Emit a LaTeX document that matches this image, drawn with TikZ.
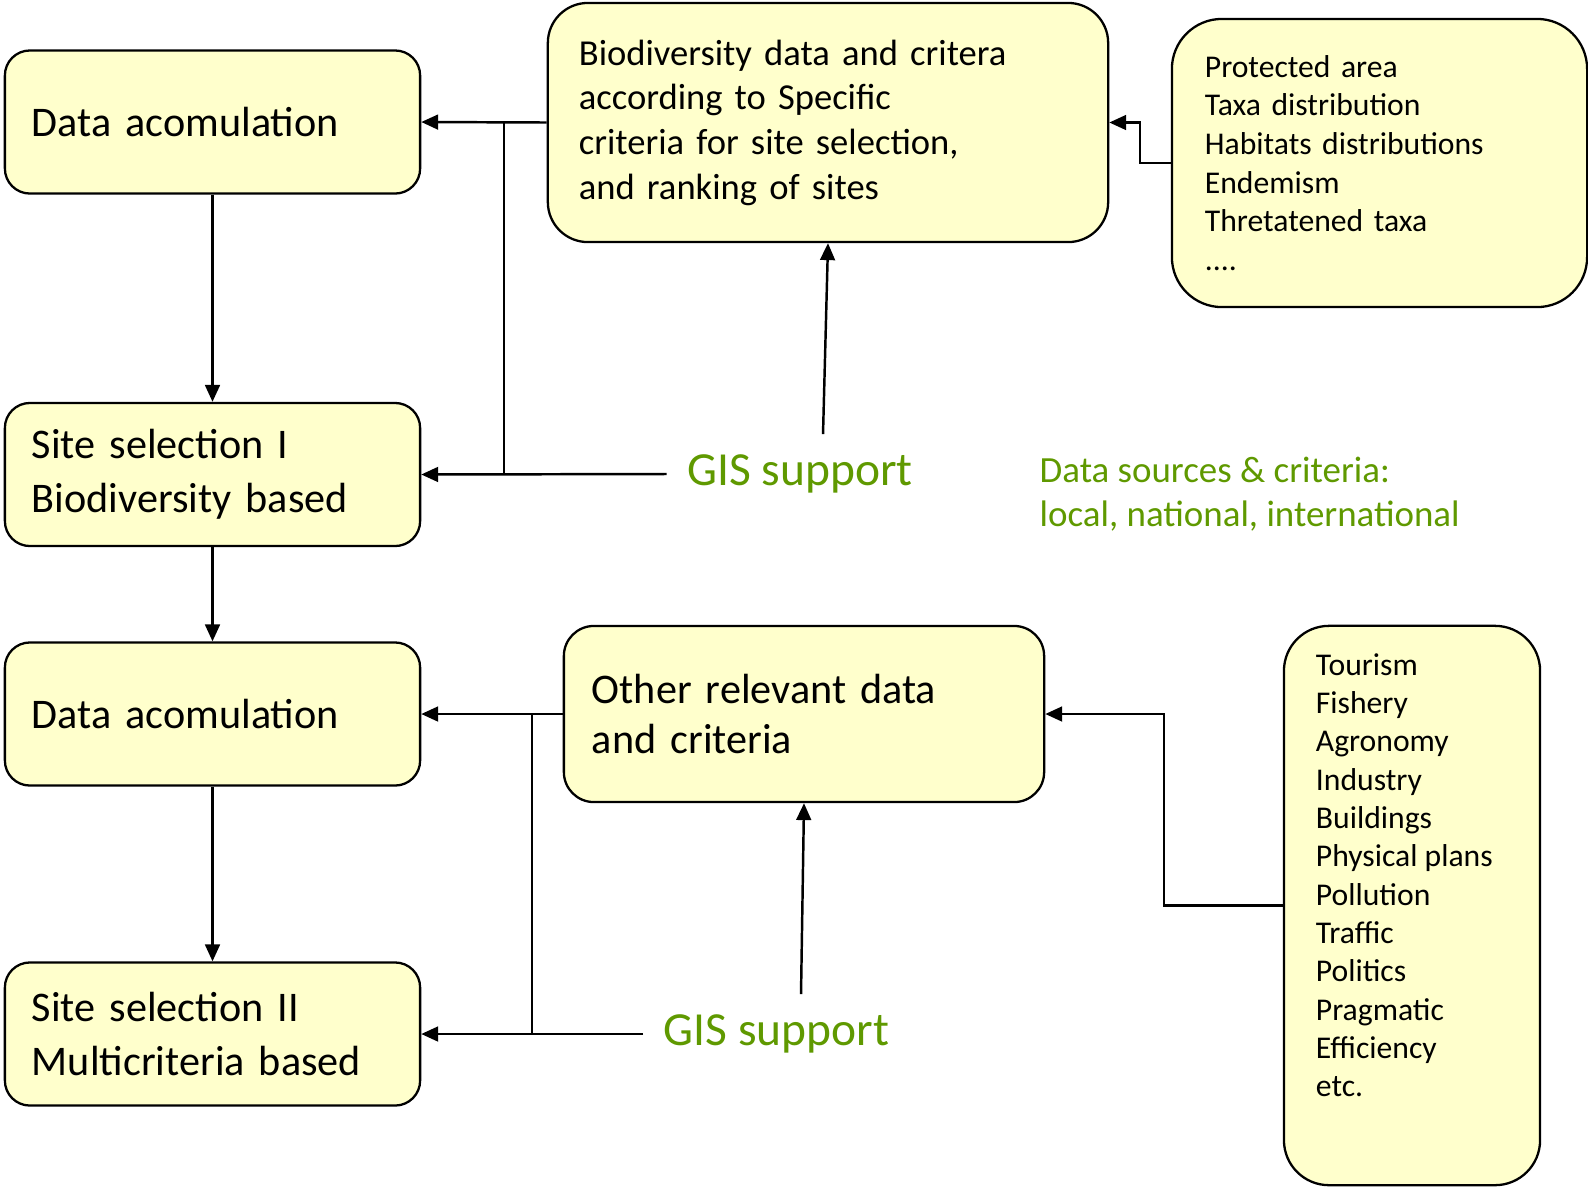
\documentclass[tikz,border=0pt]{standalone}
\usepackage{fontspec}
\setmainfont{Carlito}
\usetikzlibrary{positioning}
\usetikzlibrary{arrows.meta,calc}
\definecolor{boxfill}{RGB}{255,255,204}
\definecolor{gisgreen}{RGB}{95,153,0}
\tikzstyle{stage}=[draw,rounded corners=0.25cm,fill=boxfill,line width=0.65pt,minimum width=4.15cm,minimum height=1.43cm,inner xsep=0.27cm,text width=3.61cm,align=left,font=\fontsize{12}{15.3}\selectfont]
\tikzstyle{source}=[draw,fill=boxfill,line width=0.65pt,align=left]
\tikzstyle{gis}=[text=gisgreen,inner sep=0.2cm,font=\fontsize{13.5}{16}\selectfont]
\tikzstyle{edge} = [draw,line width=0.7pt,-{Triangle[length=4.8pt,width=4.2pt]}]
\tikzstyle{line} = [draw,line width=0.7pt]

\begin{document}
\begin{tikzpicture}[x=0.01cm,y=-0.01cm]
    \useasboundingbox (0,0) rectangle (1588,1187);
    % left column
    \foreach \pos/\name/\label in {{(212.5,122)/da1/Data acomulation}, {(212.5,474.5)/ss1/{Site selection I\\Biodiversity based}}, {(212.5,714)/da2/Data acomulation}, {(212.5,1034)/ss2/{Site selection II\\Multicriteria based}}}
        \node[stage] (\name) at \pos {\label};

    % criteria boxes
    \node[source,rounded corners=0.4cm,minimum width=5.6cm,minimum height=2.39cm,inner xsep=0.31cm,text width=4.98cm,font=\fontsize{10.4}{12.7}\selectfont] (bio) at (828,122.5)
        {Biodiversity data and critera\\according to Specific\\criteria for site selection,\\and ranking of sites};
    \node[source,rounded corners=0.5cm,minimum width=4.15cm,minimum height=2.88cm,inner xsep=0.33cm,text width=3.49cm,font=\fontsize{9}{11}\selectfont] (prot) at (1379.5,163)
        {Protected area\\Taxa distribution\\Habitats distributions\\Endemism\\Thretatened taxa\\....};
    \node[source,rounded corners=0.3cm,minimum width=4.8cm,minimum height=1.76cm,inner xsep=0.28cm,text width=4.24cm,font=\fontsize{12}{14.4}\selectfont] (other) at (804,714)
        {Other relevant data\\and criteria};
    \node[source,rounded corners=0.45cm,minimum width=2.56cm,minimum height=5.59cm,inner xsep=0.32cm,inner ysep=0.15cm,font=\fontsize{9}{10.9}\selectfont] (tour) at (1412,905.5)
        {\parbox[c][5.04cm][t]{1.92cm}{Tourism\\Fishery\\Agronomy\\Industry\\Buildings\\Physical plans\\Pollution\\Traffic\\Politics\\Pragmatic\\Efficiency\\etc.}};

    % green labels
    \node[gis] (gis1) at (800,474) {GIS support};
    \node[gis] (gis2) at (776.5,1034) {GIS support};
    \node[text=gisgreen,inner sep=0pt,anchor=west,align=left,font=\fontsize{10.5}{12.7}\selectfont] (srcs) at (1039,494)
        {Data sources \& criteria:\\local, national, international};

    \coordinate (j1) at (504,122);
    \coordinate (j2) at (532,714);

    \foreach \source/ \dest in {da1/ss1, ss1/da2, da2/ss2}
        \path[edge] (\source) -- (\dest);
    \path[edge] (bio.west) -- (da1.east);
    \path[edge] (gis1.west) -- (ss1.east);
    \path[line] (j1) -- (j1 |- gis1.west);
    \path[edge] ([xshift=0.23cm]gis1.north) -- (bio.south);
    \path[edge] (prot.west) -- ++(-31,0) |- (bio.east);
    \path[edge] (other.west) -- (da2.east);
    \path[edge] (gis2.west) -- (ss2.east);
    \path[line] (j2) -- (j2 |- gis2.west);
    \path[edge] ([xshift=0.245cm]gis2.north) -- (other.south);
    \path[edge] (tour.west) -- ++(-119,0) |- (other.east);
\end{tikzpicture}
\end{document}
